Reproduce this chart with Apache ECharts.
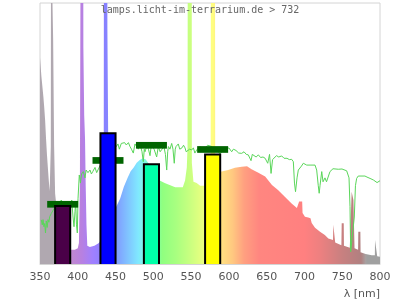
<!DOCTYPE html>
<html>
<head>
<meta charset="utf-8">
<script src="https://cdn.jsdelivr.net/npm/echarts@6/dist/echarts.min.js"></script>
<style>
html,body{margin:0;padding:0;background:#fff;}
#chart{width:400px;height:300px;}
</style>
</head>
<body>
<div id="chart"></div>
<script>
// ---- data ----
const chartTitle = 'lamps.licht-im-terrarium.de > 732';
const axisName = 'λ [nm]';

// lamp spectrum (wavelength nm, relative intensity)
const lampNm = [350,351.6,351.8,354.3,354.5,355.6,356.8,358,359.2,360.4,361.6,362.8,363.9,364.3,364.6,367.2,367.4,368.4,368.7,370,374,380,386,391,396,400,401.5,402.8,403.8,407.2,407.4,408.3,408.5,409.6,410.5,411.5,412.6,416,422,428,432,434.3,434.6,439,439.2,440.3,440.6,444,448,451,456,461,466,470,474,478,482,486,490,495,500,505,508.4,515,524,529,539,542,544.3,545.3,545.6,550.8,551,552.9,553.1,557.4,562,567.5,572,575.5,575.9,576.2,581.6,581.9,585,590.5,599,608,617,619,624,630,639,648,657,665,674,683,690,692.5,693,697,697.5,700.7,705,708,709.6,714,720.6,727,731.6,737.8,738.2,740.4,740.7,742.7,748.9,749.3,752,752.3,753.7,760,762.2,762.5,764.7,764.8,766,766.3,771,771.3,774,774.3,775.8,781,789,793.2,793.4,796,796.3,800];
const lampVal = [79,79,72,72,64,60,55,48,42,37,32,28,28,45,130,130,86,86,45,27,16,10,7,5.5,5.5,6,8,30,130,130,83,83,57,48,30,15,7,6.5,7,8,10,14,130,130,90,90,35,20,20,22,25,29.6,33,35.5,37,38.8,39.8,40.5,40,38,36,34,32,31,30,29.4,29.4,32,37,45,130,130,38.7,38.7,31.5,31,30,30,31,33,45,130,130,40,35.5,35.4,36,36.9,37.3,37.9,37.5,36.3,35,33.5,30.3,28.4,25.8,23.2,21.5,21,23.9,23.9,19.5,18.1,17.8,17.5,15.7,13.9,12.4,11.1,9.8,9.2,15,15,8.2,7.9,7.2,15.6,15.6,7,6.6,6.2,6.2,27.7,27.7,24.5,24.5,6,5.5,12.4,12.4,4.5,4.1,3.8,3.4,3.4,9.2,9.2,3,2.8];

// reference daylight spectrum
const sunNm = [351.7,353,354,355.2,356.2,357.3,358.3,359.5,360.6,361.8,362.8,365,367.6,370,373.8,376,378.2,381,384.4,387,389.7,392,393.7,395,396.3,397.2,398.3,399.4,400.3,402,403.5,405,407.3,409.6,411,413.5,416.2,418,420,422.8,425,427,430,435,440,445,451,453.2,455,457.6,460.2,462,464.2,467,469.1,471,473.5,475.7,478,480.1,482,483.7,485,486.7,488,489,491.6,493.5,495.6,497.5,499.6,501,502.2,504.4,506.6,509,511.5,514,516,517.7,519,520,522,524.3,526,527.7,529,530,533,535,537.9,540,541.9,543.5,545.9,548,550.8,553,555,557.4,561.8,565,568.4,572,577.6,581,585.6,588,590.5,593,596.2,600,603.7,606,609.4,613,617,620,623,625.7,629.3,631,633.3,636,639,642,645.2,648,651.4,653.8,655.8,657.8,660.1,663,666,669.9,673,676.9,680,683.1,685.3,686.8,688.2,690.2,691.9,694.1,696,698.5,703,707.4,714,716.2,718.3,719.5,720.6,722.9,724.6,727.2,729.2,731.6,733.8,737.8,740.4,744.8,749.7,755.9,758,759,760.3,761.2,763.3,766,767.5,769.1,771.2,780.1,782.8,786.8,791.2,793.4,796.1,800];
const sunVal = [16.9,15,17,14.3,15.5,11.9,16.5,14,17,16,18.1,19.4,20.7,22,21,23.5,24.5,23,23.5,22,21,24.5,18,14.3,20,24,15,11.9,25,34.1,31,34.5,35.4,33,36,35,36,34.5,35.5,37,35,34.8,38,40,42,44,45,46,44,46.2,45.6,46.5,45.6,46.5,45,44,42.5,46,45,44,46.5,46,43,39.2,44,43,45.5,44,41.5,46,46,44,44.5,41,45,43,44,45,42,36,43,45,44,46.2,44,38.6,44,45,46,44,44.5,45.5,44.5,43,42.5,44,43.7,44.5,42.5,43.7,45,44,44.5,45.5,45,44,43.5,42,42.4,44,43.7,44.5,43,44,43.5,42.5,42.4,43,42,41.8,39.6,42,42,41,41.8,40.8,41,40.5,38.6,42,34.7,40,40.5,41.5,41,41.4,40.5,40.5,40,40.1,39.2,31,27.7,33,36,36,37.5,38.6,37.9,37.9,37.9,36,30,27.1,30,35.4,31.5,33,31.5,31.5,35.4,36.5,36,36.3,36.4,35.7,35.4,33,22,4.7,4.7,18,30,32.8,33.7,33.7,33.3,32.8,32.2,31.5,31.2,31.9];

// measured bands: centre wavelength, lamp value, daylight reference value
const bandCenters = [380, 440, 497.5, 578.5];
const bandValues  = [22.2, 50.1, 38.2, 42.0];
const refValues   = [22.9, 39.7, 45.5, 43.9];

// ---- styles ----
const bandColors = ['#4a0048', '#0000ff', '#00ffa8', '#ffff00'];
const spectrumStops = [
  [350,'#b0a8b0'],[383,'#b0a8b0'],[392,'#c088d0'],[405,'#b880e0'],[420,'#a080ff'],
  [436,'#8880ff'],[450,'#8098ff'],[465,'#80c0ff'],[480,'#80e8ff'],[492,'#80ffd8'],
  [505,'#80ffa0'],[512,'#90ff80'],[530,'#a8ff80'],[546,'#c4ff80'],[565,'#e8ff80'],
  [578,'#ffff80'],[590,'#ffe080'],[605,'#ffc880'],[620,'#ffa080'],[640,'#ff8680'],
  [700,'#ff8080'],[720,'#ee8080'],[750,'#c88080'],[775,'#b08080'],[781,'#a8a0a0'],
  [783,'#a0a0a0'],[800,'#a0a0a0']
];
const X0 = 350, X1 = 800;
const gradient = new echarts.graphic.LinearGradient(0, 0, 1, 0,
  spectrumStops.map(s => ({offset: (s[0] - X0) / (X1 - X0), color: s[1]})));

const lampData = lampNm.map((n, i) => [n, lampVal[i]]);
const sunData = sunNm.map((n, i) => [n, sunVal[i]]);
const bandData = bandCenters.map((c, i) => [c, bandValues[i]]);
const refData = bandCenters.map((c, i) => [c, refValues[i]]);

const chart = echarts.init(document.getElementById('chart'), null, {renderer: 'canvas'});
chart.setOption({
  animation: false,
  backgroundColor: '#fff',
  title: {
    text: chartTitle,
    left: 'center',
    top: 0,
    padding: [5, 5, 5, 5],
    textStyle: {fontFamily: 'DejaVu Sans Mono', fontSize: 10, fontWeight: 'normal', color: '#666'}
  },
  grid: {
    left: 40, right: 20, top: 3, bottom: 36,
    show: true, borderColor: '#d4d4d4', borderWidth: 1,
    outerBoundsMode: 'none'
  },
  xAxis: {
    type: 'value', min: X0, max: X1, interval: 50,
    name: axisName, nameLocation: 'end', nameGap: 0,
    nameTextStyle: {fontFamily: 'DejaVu Sans', fontSize: 11, color: '#555', align: 'right', verticalAlign: 'top', padding: [25, 0, 0, 0]},
    axisLine: {show: true, lineStyle: {color: '#d4d4d4'}},
    axisTick: {show: false},
    splitLine: {show: false},
    axisLabel: {fontFamily: 'DejaVu Sans', fontSize: 11, color: '#555', margin: 8}
  },
  yAxis: {
    type: 'value', min: 0, max: 100, show: false, splitLine: {show: false}
  },
  series: [
    {
      type: 'line', data: lampData, z: 1, clip: true,
      showSymbol: false, symbol: 'none', silent: true,
      lineStyle: {width: 0, opacity: 0},
      areaStyle: {color: gradient, opacity: 1}
    },
    {
      type: 'line', data: sunData, z: 2, clip: true,
      showSymbol: false, symbol: 'none', silent: true,
      lineStyle: {width: 1, color: '#5ad65a'}
    },
    {
      type: 'custom', data: refData, z: 3, clip: true,
      encode: {x: 0, y: 1},
      renderItem: function (params, api) {
        const c = api.value(0), v = api.value(1);
        const p = api.coord([c - 20.5, v]);
        const q = api.coord([c + 20.5, v]);
        return {type: 'rect', shape: {x: p[0], y: p[1] - 3.3, width: q[0] - p[0], height: 6.7},
          style: {fill: '#006400'}};
      }
    },
    {
      type: 'custom', data: bandData, z: 4, clip: true,
      encode: {x: 0, y: 1},
      renderItem: function (params, api) {
        const c = api.value(0), v = api.value(1);
        const p = api.coord([c - 10, v]);
        const q = api.coord([c + 10, 0]);
        return {type: 'rect', shape: {x: p[0], y: p[1], width: q[0] - p[0], height: q[1] - p[1] + 2},
          style: {fill: bandColors[params.dataIndex], stroke: '#000', lineWidth: 2}};
      }
    }
  ]
});
</script>
</body>
</html>
